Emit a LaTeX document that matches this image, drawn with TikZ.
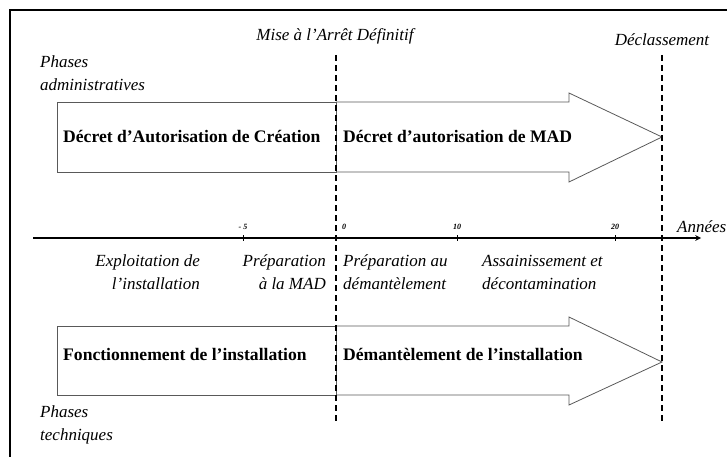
\documentclass[tikz,border=0pt]{standalone}
\usepackage{fontspec}
\setmainfont{Liberation Serif}

\begin{document}
\begin{tikzpicture}[x=1pt,y=-1pt,
  phase/.style={font=\fontsize{17.6}{20}\selectfont\bfseries,inner sep=0pt},
  lab/.style={font=\fontsize{17}{23}\selectfont\itshape,inner sep=0pt},
  yr/.style={font=\fontsize{8}{9}\selectfont\bfseries\itshape,inner sep=0pt},
  bar/.style={draw=black!65,line width=0.8pt},
  limit/.style={dashed,dash pattern=on 6pt off 4pt,line width=1.3pt}]
\useasboundingbox (0,0) rectangle (727,457);
% frame
\draw[line width=2.5pt] (10,457) -- (10,10) -- (727,10);
% administrative phases
\draw[bar] (57,102) rectangle (336,172);
\draw[bar] (336,102) -- (569,102) -- (569,93) -- (662,137) -- (569,182) -- (569,172) -- (336,172);
\path (63,136) node[phase,anchor=west] (dac) {Décret d'Autorisation de Création};
\path (343,136) node[phase,anchor=west] (dmad) {Décret d'autorisation de MAD};
% technical phases
\draw[bar] (57,326) rectangle (336,395);
\draw[bar] (336,326) -- (569,326) -- (569,317) -- (662,362) -- (569,405) -- (569,395) -- (336,395);
\path (63,354) node[phase,anchor=west] (fonct) {Fonctionnement de l'installation};
\path (343,354) node[phase,anchor=west] (demant) {Démantèlement de l'installation};
% time axis
\draw[line width=1.5pt,-stealth] (33,238) -- (701,238);
\foreach \x/\lx/\t in {243/243/- 5, 336/344/0, 457/457/10, 615/615/20} {
  \draw[line width=0.6pt] (\x,235) -- (\x,241);
  \path (\lx,227) node[yr] {\t};
}
\path (677,227) node[lab,anchor=west] (annees) {Années};
% milestones
\draw[limit] (336,55) -- (336,423);
\draw[limit] (662,55) -- (662,424);
\path (335,36) node[lab] (mad) {Mise à l'Arrêt Définitif};
\path (662,40) node[lab] (decl) {Déclassement};
% phase labels
\path (40,73) node[lab,anchor=west,align=left] (padm) {Phases\\administratives};
\path (40,425) node[lab,anchor=west,align=left] (ptech) {Phases\\techniques};
\path (200,272) node[lab,anchor=east,align=right] (expl) {Exploitation de\\l'installation};
\path (326,272) node[lab,anchor=east,align=right] (prepmad) {Préparation\\à la MAD};
\path (343,272) node[lab,anchor=west,align=left] (prepdem) {Préparation au\\démantèlement};
\path (482,272) node[lab,anchor=west,align=left] (assain) {Assainissement et\\décontamination};
\end{tikzpicture}
\end{document}
